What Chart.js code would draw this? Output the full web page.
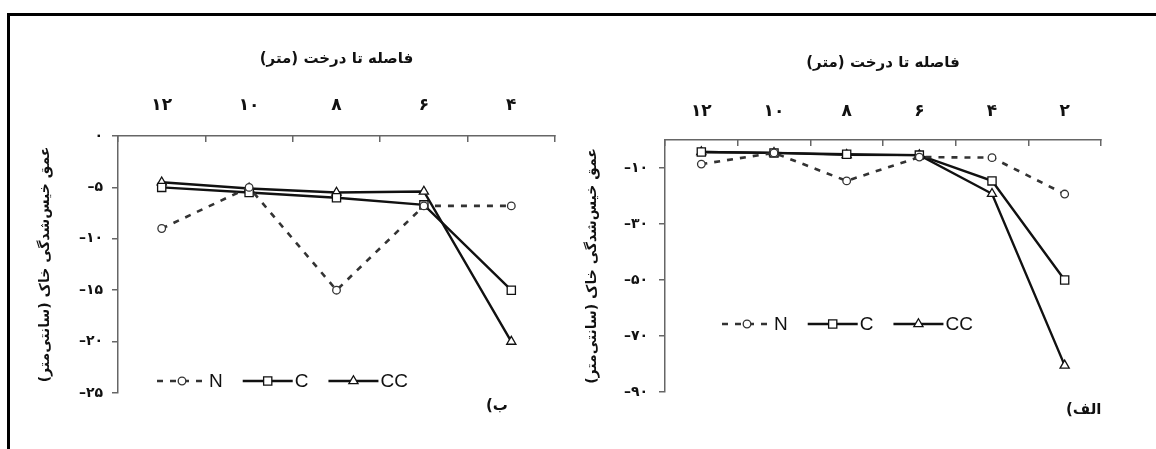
<!DOCTYPE html>
<html lang="fa">
<head>
<meta charset="UTF-8">
<title>عمق خیس‌شدگی خاک</title>
<script src="https://cdn.jsdelivr.net/npm/chart.js@4.4.1/dist/chart.umd.min.js"></script>
<style>
    html, body { margin: 0; padding: 0; background: #fff; }
    body { width: 1156px; height: 449px; position: relative; overflow: hidden; font-family: 'DejaVu Sans', sans-serif; }
    .frame { position: absolute; left: 7px; top: 13px; right: -10px; bottom: -10px; border-top: 3px solid #000; border-left: 3px solid #000; }
    .panel { position: absolute; }
    #wrapB { left: 20px; top: 30px; width: 560px; height: 400px; }
    #wrapA { left: 565px; top: 30px; width: 560px; height: 410px; }
    .tag { position: absolute; font: bold 15px 'DejaVu Sans', sans-serif; direction: rtl; color: #111; }
</style>
</head>
<body>
<div class="frame"></div>
<div class="panel" id="wrapB"><canvas id="chartB"></canvas></div>
<div class="panel" id="wrapA"><canvas id="chartA"></canvas></div>
<div class="tag" style="left:486px; top:396px;">ب)</div>
<div class="tag" style="left:1066px; top:400px;">الف)</div>

<script>
// panel ب (left)
const distB = [12, 10, 8, 6, 4];
const nB = [-9, -5, -15, -6.8, -6.8];
const cB = [-5, -5.5, -6, -6.7, -15];
const ccB = [-4.5, -5.1, -5.5, -5.4, -20];
const yTicksB = [0, -5, -10, -15, -20, -25];

// panel الف (right)
const distA = [12, 10, 8, 6, 4, 2];
const nA = [-8.6, -4.6, -14.6, -6.1, -6.3, -19.3];
const cA = [-4.3, -4.6, -5.1, -5.4, -14.6, -50];
const ccA = [-4.3, -4.6, -5.3, -5.4, -19.2, -80.5];
const yTicksA = [-10, -30, -50, -70, -90];

const seriesNames = ['N', 'C', 'CC'];
const xTitle = '\u200Fفاصله تا درخت (متر)\u200F';
const yTitle = '\u200Fعمق خیس‌شدگی خاک (سانتی‌متر)\u200F';

// latin digits -> persian digits
function fa(v) {
    return String(v).replace('-', '–').replace(/\d/g, d => '۰۱۲۳۴۵۶۷۸۹'[d]);
}

function marker(ctx, style, r, x, y) {
    ctx.beginPath();
    if (style === 'circle') {
        ctx.arc(x, y, r, 0, Math.PI * 2);
    } else if (style === 'rect') {
        const s = r * Math.SQRT1_2;
        ctx.rect(x - s, y - s, 2 * s, 2 * s);
    } else {
        for (let i = 0; i < 3; i++) {
            const a = i * Math.PI * 2 / 3;
            ctx.lineTo(x + Math.sin(a) * r, y - Math.cos(a) * r);
        }
        ctx.closePath();
    }
    ctx.fill();
    ctx.stroke();
}

// legend drawn as line + marker + name
const lineLegend = {
    id: 'lineLegend',
    afterDraw(chart, args, opts) {
        const ctx = chart.ctx;
        let x = chart.chartArea.left + opts.dx;
        const y = chart.chartArea.top + opts.dy;
        ctx.save();
        ctx.font = '19px "Liberation Sans", Arial, sans-serif';
        ctx.textBaseline = 'middle';
        chart.data.datasets.forEach(ds => {
            ctx.strokeStyle = ds.borderColor;
            ctx.lineWidth = ds.borderWidth;
            ctx.setLineDash(ds.borderDash || []);
            ctx.beginPath();
            ctx.moveTo(x, y);
            ctx.lineTo(x + 50, y);
            ctx.stroke();
            ctx.setLineDash([]);
            ctx.fillStyle = '#fff';
            ctx.strokeStyle = ds.pointBorderColor;
            ctx.lineWidth = ds.pointBorderWidth;
            marker(ctx, ds.pointStyle, ds.pointRadius, x + 25, y);
            ctx.fillStyle = '#111';
            ctx.fillText(ds.label, x + 52, y + 1);
            x += 52 + ctx.measureText(ds.label).width + 20;
        });
        ctx.restore();
    }
};

function makeChart(id, dist, series, yTicks, yMin, L) {
    const styles = [
        { borderColor: '#333', borderWidth: 2.6, borderDash: [6, 7], pointStyle: 'circle', pointRadius: 3.8 },
        { borderColor: '#111', borderWidth: 2.4, borderDash: [], pointStyle: 'rect', pointRadius: 5.8 },
        { borderColor: '#111', borderWidth: 2.4, borderDash: [], pointStyle: 'triangle', pointRadius: 5.3 }
    ];
    return new Chart(document.getElementById(id), {
        type: 'line',
        data: {
            labels: dist.map(fa),
            datasets: series.map((d, i) => Object.assign({
                label: seriesNames[i],
                data: d,
                tension: 0,
                pointBackgroundColor: '#fff',
                pointBorderColor: styles[i].borderColor,
                pointBorderWidth: 1.3,
                clip: false
            }, styles[i]))
        },
        options: {
            responsive: true,
            maintainAspectRatio: false,
            animation: false,
            layout: { padding: { top: 0, left: 0, right: L.padRight, bottom: L.padBottom } },
            plugins: {
                legend: { display: false },
                tooltip: { enabled: false },
                lineLegend: { dx: L.legendDx, dy: L.legendDy }
            },
            scales: {
                x: {
                    position: 'top',
                    offset: true,
                    afterFit: s => { s.height = L.xHeight; },
                    border: { display: true, color: '#666', width: 1.5 },
                    grid: { drawOnChartArea: false, offset: true, tickLength: -6, color: '#666', lineWidth: 1.5 },
                    ticks: { color: '#111', padding: L.xPad, font: { size: 17, weight: 'bold' } },
                    title: {
                        display: true, text: xTitle, color: '#111',
                        font: { size: 15, weight: 'bold' },
                        padding: { top: L.xTitlePad, bottom: 0 }
                    }
                },
                y: {
                    min: yMin,
                    max: 0,
                    afterFit: s => { s.width = L.yWidth; },
                    afterBuildTicks: s => { s.ticks = yTicks.map(v => ({ value: v })); },
                    border: { display: true, color: '#666', width: 1.5 },
                    grid: { drawOnChartArea: false, tickLength: 6, color: '#666', lineWidth: 1.5 },
                    ticks: { color: '#111', padding: L.yPad, font: { size: 14, weight: 'bold' }, callback: v => fa(v) },
                    title: {
                        display: true, text: yTitle, color: '#111',
                        font: { size: 14, weight: 'bold' },
                        padding: { top: L.yTitlePad, bottom: 0 }
                    }
                }
            }
        },
        plugins: [lineLegend]
    });
}

Chart.defaults.font.family = "'DejaVu Sans', sans-serif";

makeChart('chartB', distB, [nB, cB, ccB], yTicksB, -25, {
    padRight: 25, padBottom: 37, xHeight: 106, yWidth: 98,
    xPad: 26, yPad: 9, xTitlePad: 20, yTitlePad: 16.6,
    legendDx: 39, legendDy: 245
});

makeChart('chartA', distA, [nA, cA, ccA], yTicksA, -90, {
    padRight: 24, padBottom: 48, xHeight: 110, yWidth: 100,
    xPad: 24, yPad: 11, xTitlePad: 24, yTitlePad: 18.6,
    legendDx: 57, legendDy: 184
});
</script>
</body>
</html>
